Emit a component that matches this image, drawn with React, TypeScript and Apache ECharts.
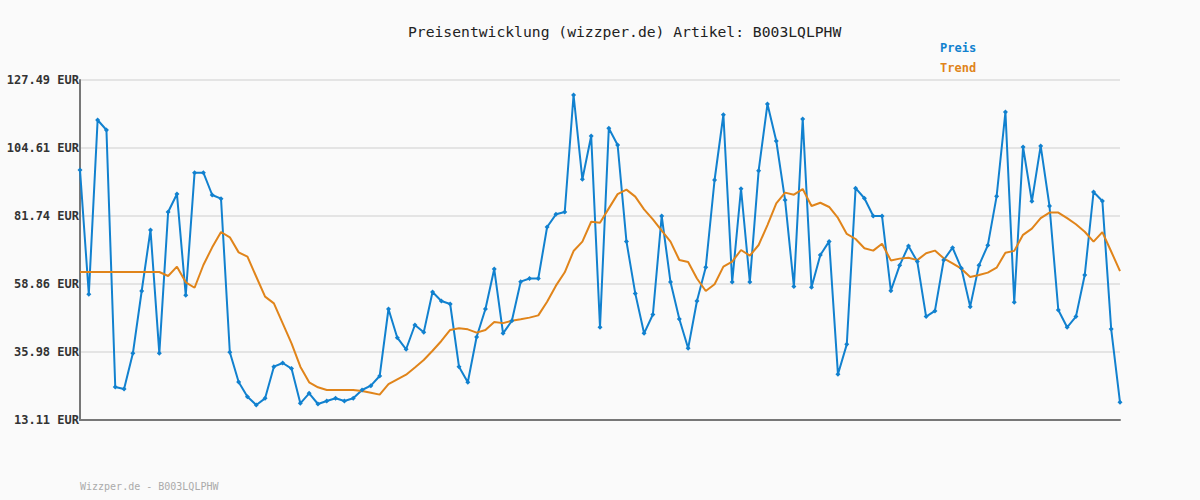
import React, { useEffect, useRef } from "react";
import * as echarts from "echarts";

const titleText = "Preisentwicklung (wizzper.de) Artikel: B003LQLPHW";
const footerText = "Wizzper.de - B003LQLPHW";
const seriesNames = ["Preis", "Trend"];

const preis = [
  97.21, 55.4, 114.03, 110.67, 24.21, 23.54, 35.54, 56.51, 77.03, 35.54,
  83.08, 89.14, 55.06, 96.32, 96.32, 88.8, 87.56, 35.89, 25.89, 20.95,
  18.16, 20.4, 31.04, 32.28, 30.4, 18.72, 22.09, 18.49, 19.5, 20.4,
  19.5, 20.4, 23.2, 24.65, 27.9, 50.45, 40.8, 36.9, 45.07, 42.6,
  56.17, 53.14, 52.13, 31.04, 25.8, 41.03, 50.45, 63.9, 42.27, 46.5,
  59.65, 60.7, 60.7, 78.04, 82.3, 83.08, 122.44, 94.08, 108.65, 44.3,
  111.24, 105.62, 73.2, 55.7, 42.27, 48.6, 81.74, 59.53, 47.09, 37.22,
  53.14, 64.48, 93.85, 115.8, 59.53, 90.9, 59.53, 96.98, 119.4, 106.97,
  87.1, 57.98, 114.37, 57.75, 68.6, 73.2, 28.47, 38.56, 91.1, 87.7,
  81.74, 81.74, 56.6, 65.15, 71.65, 66.4, 47.9, 49.8, 66.94, 71.08,
  64.14, 51.25, 65.15, 71.87, 88.36, 116.73, 52.7, 104.95, 86.67, 105.3,
  85.1, 50.12, 44.3, 47.9, 61.89, 89.81, 86.78, 43.72, 19.06,
];

const trend = [
  62.9, 62.9, 62.9, 62.9, 62.9, 62.9, 62.9, 62.9, 62.9, 62.9,
  61.55, 64.7, 59.43, 57.6, 65.25, 71.2, 76.36, 74.57, 69.5, 68.05,
  61.3, 54.6, 52.36, 45.6, 38.9, 31.04, 25.8, 24.1, 23.2, 23.2,
  23.2, 23.2, 22.9, 22.3, 21.65, 25.2, 26.8, 28.36, 30.8, 33.3,
  36.4, 39.7, 43.4, 43.96, 43.6, 42.5, 43.4, 46.08, 45.7, 46.5,
  47.0, 47.55, 48.3, 52.9, 58.3, 62.8, 69.96, 73.1, 79.8, 79.5,
  84.3, 89.1, 90.6, 88.25, 83.99, 80.6, 76.8, 73.1, 66.94, 66.26,
  60.7, 56.5, 58.77, 64.7, 66.4, 70.3, 68.4, 71.98, 78.7, 86.0,
  89.6, 88.9, 90.8, 85.1, 86.2, 84.77, 81.07, 75.7, 74.0, 70.9,
  70.1, 72.4, 66.8, 67.4, 67.7, 66.9, 69.2, 70.1, 67.5, 65.8,
  64.0, 61.2, 61.9, 62.7, 64.35, 69.4, 70.0, 75.4, 77.5, 81.0,
  82.9, 82.9, 81.0, 78.95, 76.45, 73.1, 76.3, 69.8, 63.2,
];

const categories = preis.map((_, i) => String(i + 1));
const yTicks = [13.11, 35.98, 58.86, 81.74, 104.61, 127.49];
const yMin = 13.11;
const yMax = 127.49;

const MONO = "'DejaVu Sans Mono', 'Liberation Mono', monospace";
const BLUE = "#1181cf";
const ORANGE = "#e0841a";

export default function App() {
  const ref = useRef<HTMLDivElement>(null);

  useEffect(() => {
    document.body.style.margin = "0";
    document.body.style.background = "#fafafa";
    if (!ref.current) return;
    const chart = echarts.init(ref.current, undefined, { renderer: "svg" });
    chart.setOption({
      animation: false,
      backgroundColor: "#fafafa",
      title: {
        text: titleText,
        left: 403,
        top: 19,
        textStyle: {
          fontFamily: MONO,
          fontWeight: "normal",
          fontSize: 14.7,
          color: "#222",
        },
      },
      legend: {
        orient: "vertical",
        left: 930,
        top: 36,
        itemGap: 6,
        itemWidth: 0,
        itemHeight: 0,
        icon: "rect",
        selectedMode: false,
        data: [
          {
            name: seriesNames[0],
            textStyle: { color: BLUE },
          },
          {
            name: seriesNames[1],
            textStyle: { color: ORANGE },
          },
        ],
        textStyle: {
          fontFamily: MONO,
          fontWeight: "bold",
          fontSize: 12,
          lineHeight: 14,
        },
      },
      grid: { left: 80, right: 80, top: 80, bottom: 80, containLabel: false },
      xAxis: {
        type: "category",
        data: categories,
        boundaryGap: false,
        axisLine: { show: true, lineStyle: { color: "#777", width: 2 } },
        axisTick: { show: false },
        axisLabel: { show: false },
        splitLine: { show: false },
      },
      yAxis: {
        type: "value",
        min: yMin,
        max: yMax,
        axisLine: { show: true, lineStyle: { color: "#777", width: 2 } },
        axisTick: { show: false, customValues: yTicks },
        axisLabel: {
          customValues: yTicks,
          formatter: (v: number) => v.toFixed(2) + " EUR",
          fontFamily: MONO,
          fontWeight: "bold",
          fontSize: 12,
          color: "#333",
          margin: 1,
        },
        splitLine: { show: true, lineStyle: { color: "#e4e4e4", width: 2 } },
      },
      series: [
        {
          name: seriesNames[0],
          type: "line",
          data: preis,
          symbol: "diamond",
          symbolSize: 5,
          showSymbol: true,
          lineStyle: { color: BLUE, width: 2 },
          itemStyle: { color: BLUE },
        },
        {
          name: seriesNames[1],
          type: "line",
          data: trend,
          symbol: "none",
          lineStyle: { color: ORANGE, width: 2 },
          itemStyle: { color: ORANGE },
        },
      ],
      graphic: [
        {
          type: "text",
          left: 80,
          top: 481,
          style: {
            text: footerText,
            fontFamily: MONO,
            fontSize: 10,
            fill: "#aaa",
          },
        },
      ],
    });
    return () => chart.dispose();
  }, []);

  return (
    <div
      ref={ref}
      style={{ position: "fixed", left: 0, top: 0, width: 1200, height: 500 }}
    />
  );
}
